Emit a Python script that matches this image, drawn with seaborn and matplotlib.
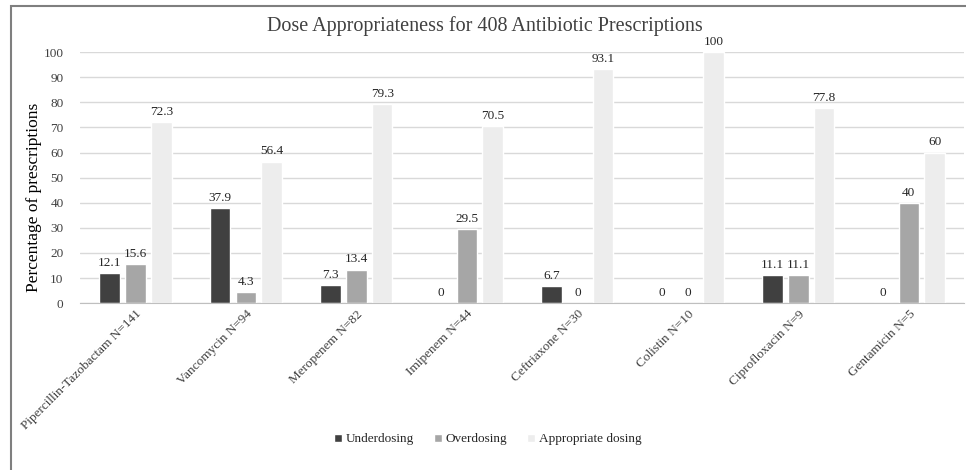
import pandas as pd
import matplotlib.pyplot as plt
import seaborn as sns
from matplotlib.patches import Rectangle

# data
drugs = ['Pipercillin-Tazobactam N=141', 'Vancomycin N=94', 'Meropenem N=82',
         'Imipenem N=44', 'Ceftriaxone N=30', 'Colistin N=10',
         'Ciprofloxacin N=9', 'Gentamicin N=5']
underdosing = [12.1, 37.9, 7.3, 0, 6.7, 0, 11.1, 0]
overdosing = [15.6, 4.3, 13.4, 29.5, 0, 0, 11.1, 40]
appropriate = [72.3, 56.4, 79.3, 70.5, 93.1, 100, 77.8, 60]
groups = ['Underdosing', 'Overdosing', 'Appropriate dosing']
colors = ['#404040', '#a6a6a6', '#ededed']

rows = []
for g, vals in zip(groups, [underdosing, overdosing, appropriate]):
    for d, v in zip(drugs, vals):
        rows.append({'drug': d, 'group': g, 'value': v})
df = pd.DataFrame(rows)

sns.set_style('white')
plt.rcParams['font.family'] = ['Liberation Serif', 'DejaVu Serif']

fig = plt.figure(figsize=(9.66, 4.70), dpi=100)
ax = fig.add_axes([0.083, 0.355, 0.915, 0.534])

sns.barplot(data=df, x='drug', y='value', hue='group', palette=colors,
            width=0.7, gap=0.2, ax=ax, legend=True)

for cont in ax.containers:
    ax.bar_label(cont, fmt='%g', padding=3, fontsize=9.5, color='#262626')

ax.set_ylim(0, 100)
ax.set_yticks(range(0, 101, 10))
ax.yaxis.grid(True, color='#d9d9d9', linewidth=1)
ax.set_axisbelow(True)
for s in ['top', 'right', 'left']:
    ax.spines[s].set_visible(False)
ax.spines['bottom'].set_color('#bfbfbf')
ax.tick_params(axis='both', length=0, labelsize=9.5, colors='#404040')
ax.tick_params(axis='y', pad=12)
ax.set_xticks(range(len(drugs)))
ax.set_xticklabels(drugs, rotation=45, ha='right', rotation_mode='anchor')
ax.set_xlabel('')
ax.set_ylabel('Percentage of prescriptions', fontsize=12.5, color='black')
ax.yaxis.set_label_coords(-0.043, 0.42)
fig.suptitle('Dose Appropriateness for 408 Antibiotic Prescriptions',
             x=0.502, y=0.965, fontsize=14.5, color='#404040')

handles, labels = ax.get_legend_handles_labels()
ax.legend_.remove()
fig.legend(handles, labels, loc='center', bbox_to_anchor=(0.505, 0.065),
           ncol=3, frameon=False, fontsize=9.5, handlelength=0.6,
           handleheight=0.6, columnspacing=1.5, handletextpad=0.3)

# outer frame like the original picture
fig.patches.append(Rectangle((0.011, -0.01), 1.0, 0.998, transform=fig.transFigure,
                             fill=False, edgecolor='#7f7f7f', linewidth=1.5))

fig.savefig('out.png', dpi=100)
